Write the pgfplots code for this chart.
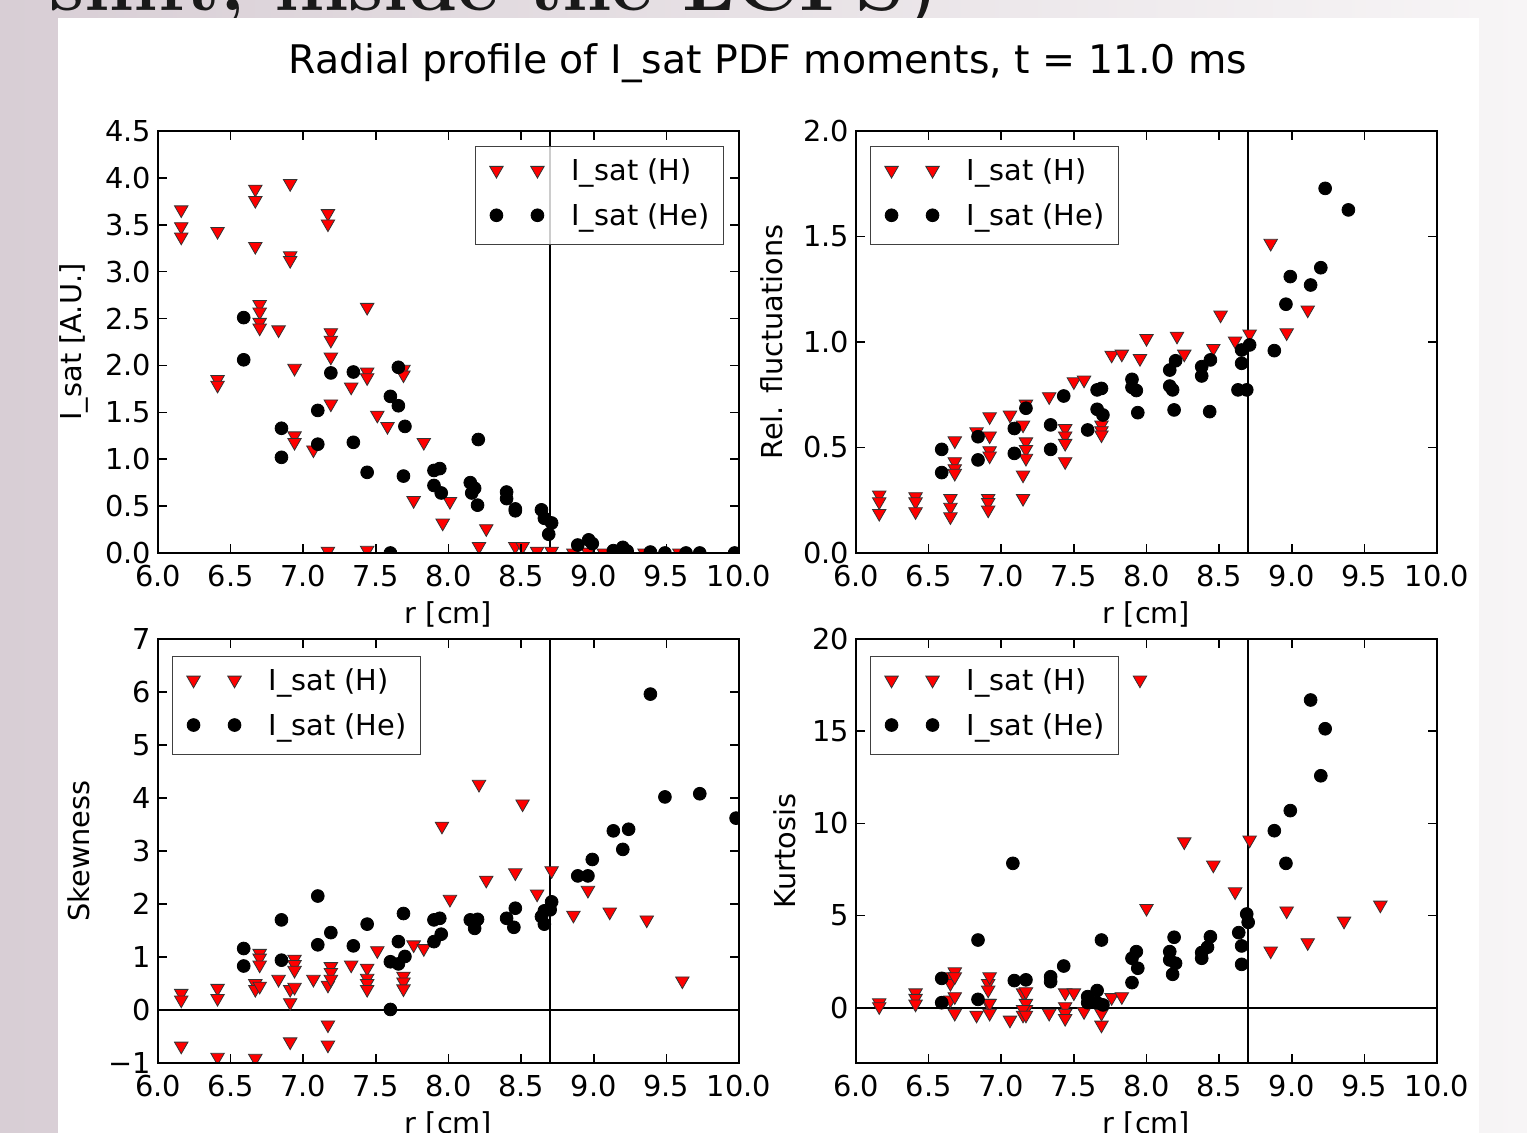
\documentclass[border=0pt]{standalone}
\usepackage{fontspec}
\usepackage{pgfplots}
\pgfplotsset{compat=1.18}
\newfontfamily\dv{DejaVu Sans}
\definecolor{bgL}{RGB}{216,206,213}
\definecolor{bgR}{RGB}{247,245,246}
\newcommand{\tfont}{\dv\fontsize{14.4}{17}\selectfont}
\pgfplotsset{
  panel/.style={
    scale only axis, width=290.5pt,
    xmin=6, xmax=10,
    xtick={6,6.5,7,7.5,8,8.5,9,9.5,10},
    xticklabels={6.0,6.5,7.0,7.5,8.0,8.5,9.0,9.5,10.0},
    tick align=inside, major tick length=4.5pt,
    every tick/.style={black, line width=0.8pt},
    axis line style={black, line width=1.1pt},
    clip marker paths=true, axis on top,
    tick label style={font=\tfont},
    label style={font=\tfont},
    xticklabel style={yshift=-2.5pt},
    xlabel={r [cm]},
    xlabel style={at={(axis description cs:0.5,-0.145)}, anchor=center},
    legend cell align=left,
    legend style={font=\tfont, draw=black!75, line width=0.6pt, fill=white,
      fill opacity=0.8, draw opacity=1, text opacity=1,
      inner xsep=7pt, inner ysep=6.5pt, row sep=9pt,
      nodes={inner sep=0pt, text height=10.5pt, text depth=3pt}},
  },
  Hs/.style={only marks, mark=triangle*, mark size=3.9pt,
    mark options={rotate=180, fill=red, draw=black!80, line width=0.4pt, fill opacity=1, draw opacity=1},
    legend image code/.code={\draw[##1, draw=none] plot coordinates {(0pt,1.5pt) (20.5pt,1.5pt)}; \path[draw=none] (-3.5pt,0pt) -- (37.5pt,0pt);}},
  Hes/.style={only marks, mark=*, mark size=3.2pt,
    mark options={fill=black, draw=black, line width=0.4pt, fill opacity=1, draw opacity=1},
    legend image code/.code={\draw[##1, draw=none] plot coordinates {(0pt,1.5pt) (20.5pt,1.5pt)}; \path[draw=none] (-3.5pt,0pt) -- (37.5pt,0pt);}},
  vl/.style={forget plot, black, line width=1pt},
}
\begin{document}
\begin{tikzpicture}
\path[use as bounding box] (0,0) rectangle (763.5pt,566.5pt);
\clip (0,0) rectangle (763.5pt,566.5pt);
\shade[left color=bgL, right color=bgR] (0,0) rectangle (763.5pt,566.5pt);
\node[anchor=base east, inner sep=0pt, text=black!90] at (470pt,561pt) {\fontsize{39.5}{40}\selectfont\bfseries shift, inside the LCFS)};
\fill[white] (29pt,0) rectangle (739.5pt,557.5pt);
\node[anchor=base, inner sep=0pt] at (384pt,529.5pt) {\dv\fontsize{19.7}{22}\selectfont Radial profile of I\_sat PDF moments, t = 11.0 ms};

% ---------- I_sat ----------
\begin{axis}[panel, at={(79pt,290pt)}, anchor=south west, height=211pt,
  ymin=0, ymax=4.5, ytick={0,0.5,1,1.5,2,2.5,3,3.5,4,4.5},
  yticklabels={0.0,0.5,1.0,1.5,2.0,2.5,3.0,3.5,4.0,4.5},
  ylabel={I\_sat [A.U.]}, ylabel style={at={(axis description cs:-0.145,0.5)}, anchor=center},
  legend style={at={(0.974,0.964)}, anchor=north east}]
\addplot[vl] coordinates {(8.7,0) (8.7,4.5)};
\addplot[Hs] coordinates {(6.16,3.66) (6.16,3.48) (6.16,3.37) (6.41,3.43) (6.41,1.85) (6.41,1.79) (6.67,3.88) (6.67,3.76) (6.67,3.27) (6.70,2.65) (6.70,2.57) (6.70,2.46) (6.70,2.40) (6.83,2.38) (6.91,3.94) (6.91,3.17) (6.91,3.12) (6.94,1.97) (6.94,1.25) (6.94,1.18) (7.07,1.10) (7.17,3.62) (7.17,3.51) (7.19,2.35) (7.19,2.27) (7.19,2.09) (7.19,1.59) (7.17,0.02) (7.33,1.77) (7.44,2.62) (7.44,1.93) (7.44,1.87) (7.44,0.03) (7.51,1.47) (7.58,1.35) (7.69,1.96) (7.69,1.90) (7.76,0.56) (7.83,1.18) (7.96,0.32) (8.01,0.55) (8.21,0.07) (8.26,0.26) (8.46,0.07) (8.51,0.07) (8.61,0.02) (8.71,0.02) (8.86,0.00) (8.96,0.01) (9.07,0.00) (9.35,0.00) (9.59,0.00)};
\addplot[Hes] coordinates {(6.59,2.51) (6.59,2.06) (6.85,1.33) (6.85,1.02) (7.10,1.52) (7.10,1.16) (7.19,1.92) (7.345,1.93) (7.345,1.18) (7.44,0.86) (7.60,1.67) (7.655,1.98) (7.655,1.57) (7.70,1.35) (7.69,0.82) (7.60,0.00) (7.90,0.88) (7.94,0.90) (7.90,0.72) (7.95,0.64) (8.205,1.21) (8.15,0.75) (8.18,0.69) (8.16,0.64) (8.20,0.51) (8.40,0.65) (8.40,0.58) (8.46,0.47) (8.46,0.45) (8.64,0.46) (8.66,0.37) (8.71,0.32) (8.69,0.20) (8.89,0.085) (8.965,0.14) (8.99,0.10) (9.135,0.025) (9.20,0.06) (9.23,0.02) (9.39,0.01) (9.49,0.00) (9.635,0.00) (9.73,0.00) (9.97,0.00)};
\legend{I\_sat (H), I\_sat (He)}
\end{axis}

% ---------- Rel. fluctuations ----------
\begin{axis}[panel, at={(428pt,290pt)}, anchor=south west, height=211pt,
  ymin=0, ymax=2, ytick={0,0.5,1,1.5,2},
  yticklabels={0.0,0.5,1.0,1.5,2.0},
  ylabel={Rel. fluctuations}, ylabel style={at={(axis description cs:-0.145,0.5)}, anchor=center},
  legend style={at={(0.024,0.964)}, anchor=north west}]
\addplot[vl] coordinates {(8.7,0) (8.7,2)};
\addplot[Hs] coordinates {(6.16,0.275) (6.16,0.243) (6.16,0.188) (6.41,0.267) (6.41,0.243) (6.41,0.196) (6.65,0.259) (6.65,0.217) (6.65,0.172) (6.91,0.259) (6.91,0.24) (6.91,0.204) (6.68,0.532) (6.68,0.433) (6.68,0.40) (6.68,0.378) (6.83,0.575) (6.92,0.646) (6.92,0.555) (6.92,0.485) (6.92,0.46) (7.06,0.654) (7.15,0.607) (7.17,0.706) (7.17,0.527) (7.17,0.491) (7.17,0.449) (7.15,0.37) (7.15,0.259) (7.33,0.741) (7.44,0.59) (7.44,0.555) (7.44,0.52) (7.44,0.433) (7.50,0.812) (7.57,0.82) (7.69,0.607) (7.69,0.58) (7.69,0.56) (7.76,0.938) (7.83,0.943) (7.955,0.922) (8.00,1.017) (8.21,1.028) (8.26,0.943) (8.46,0.97) (8.51,1.128) (8.61,1.005) (8.71,1.038) (8.855,1.468) (8.965,1.044) (9.11,1.152)};
\addplot[Hes] coordinates {(6.59,0.491) (6.59,0.381) (6.84,0.551) (6.84,0.441) (7.09,0.59) (7.09,0.472) (7.17,0.686) (7.34,0.607) (7.34,0.491) (7.43,0.744) (7.595,0.583) (7.66,0.773) (7.69,0.78) (7.66,0.681) (7.70,0.654) (7.90,0.823) (7.90,0.785) (7.93,0.77) (7.94,0.665) (8.20,0.911) (8.16,0.867) (8.16,0.791) (8.18,0.773) (8.19,0.678) (8.38,0.883) (8.38,0.839) (8.44,0.915) (8.435,0.67) (8.655,0.962) (8.655,0.899) (8.63,0.773) (8.69,0.773) (8.71,0.986) (8.88,0.959) (8.96,1.179) (8.99,1.31) (9.13,1.27) (9.20,1.352) (9.23,1.728) (9.39,1.626)};
\legend{I\_sat (H), I\_sat (He)}
\end{axis}

% ---------- Skewness ----------
\begin{axis}[panel, at={(79pt,35pt)}, anchor=south west, height=212pt,
  ymin=-1, ymax=7, ytick={-1,0,1,2,3,4,5,6,7},
  yticklabels={−1,0,1,2,3,4,5,6,7},
  ylabel={Skewness}, ylabel style={at={(axis description cs:-0.136,0.5)}, anchor=center},
  legend style={at={(0.024,0.96)}, anchor=north west}]
\addplot[vl] coordinates {(8.7,-1) (8.7,7)};
\addplot[vl] coordinates {(6,0) (10,0)};
\addplot[Hs] coordinates {(6.16,0.315) (6.16,0.19) (6.16,-0.68) (6.41,0.41) (6.41,0.22) (6.41,-0.89) (6.67,-0.91) (6.67,0.50) (6.67,0.39) (6.70,1.07) (6.70,0.98) (6.70,0.85) (6.70,0.45) (6.83,0.58) (6.91,0.39) (6.91,0.14) (6.91,-0.60) (6.94,0.96) (6.94,0.86) (6.94,0.75) (6.94,0.43) (7.07,0.58) (7.17,0.47) (7.17,-0.28) (7.17,-0.66) (7.19,0.82) (7.19,0.71) (7.19,0.58) (7.33,0.85) (7.44,0.79) (7.44,0.60) (7.44,0.50) (7.44,0.39) (7.51,1.12) (7.69,0.64) (7.69,0.53) (7.69,0.40) (7.76,1.23) (7.83,1.16) (7.955,3.47) (8.01,2.09) (8.21,4.26) (8.26,2.45) (8.46,2.59) (8.51,3.89) (8.61,2.19) (8.71,2.63) (8.86,1.79) (8.96,2.26) (9.11,1.85) (9.365,1.70) (9.61,0.55)};
\addplot[Hes] coordinates {(6.59,1.16) (6.59,0.83) (6.85,1.70) (6.85,0.94) (7.10,2.15) (7.10,1.23) (7.19,1.46) (7.345,1.21) (7.44,1.62) (7.60,0.91) (7.60,0.01) (7.655,1.29) (7.655,0.87) (7.70,1.01) (7.69,1.82) (7.90,1.29) (7.90,1.70) (7.94,1.73) (7.95,1.43) (8.15,1.70) (8.18,1.66) (8.20,1.71) (8.18,1.54) (8.40,1.73) (8.46,1.92) (8.45,1.56) (8.64,1.76) (8.66,1.62) (8.66,1.87) (8.70,1.89) (8.71,2.04) (8.89,2.53) (8.96,2.53) (8.99,2.84) (9.135,3.38) (9.24,3.41) (9.20,3.03) (9.39,5.96) (9.49,4.02) (9.73,4.08) (9.98,3.62)};
\legend{I\_sat (H), I\_sat (He)}
\end{axis}

% ---------- Kurtosis ----------
\begin{axis}[panel, at={(428pt,35pt)}, anchor=south west, height=212pt,
  ymin=-3, ymax=20, ytick={0,5,10,15,20},
  yticklabels={0,5,10,15,20},
  ylabel={Kurtosis}, ylabel style={at={(axis description cs:-0.122,0.5)}, anchor=center},
  legend style={at={(0.024,0.96)}, anchor=north west}]
\addplot[vl] coordinates {(8.7,-3) (8.7,20)};
\addplot[vl] coordinates {(6,0) (10,0)};
\addplot[Hs] coordinates {(6.16,0.27) (6.16,0.06) (6.41,0.81) (6.41,0.51) (6.41,0.2) (6.65,1.68) (6.65,1.32) (6.65,0.42) (6.68,1.95) (6.68,1.68) (6.68,0.60) (6.68,-0.30) (6.83,-0.40) (6.91,1.32) (6.91,0.96) (6.91,0.24) (6.92,1.68) (6.92,0.24) (6.92,-0.3) (7.06,-0.67) (7.15,0.81) (7.17,0.87) (7.17,0.24) (7.17,-0.09) (7.15,-0.09) (7.15,-0.40) (7.17,-0.40) (7.33,-0.3) (7.44,0.81) (7.44,0.06) (7.44,-0.3) (7.44,-0.58) (7.50,0.81) (7.57,-0.21) (7.69,-0.3) (7.69,-0.94) (7.76,0.55) (7.83,0.60) (7.955,17.78) (8.00,5.39) (8.26,9.0) (8.46,7.74) (8.61,6.29) (8.71,9.10) (8.855,3.08) (8.965,5.25) (9.11,3.53) (9.36,4.70) (9.61,5.57)};
\addplot[Hes] coordinates {(6.59,1.59) (6.59,0.27) (6.84,3.67) (6.84,0.45) (7.08,7.83) (7.09,1.47) (7.17,1.51) (7.34,1.68) (7.34,1.41) (7.43,2.26) (7.595,0.6) (7.595,0.27) (7.66,0.93) (7.69,3.67) (7.66,0.27) (7.70,0.15) (7.90,2.68) (7.93,3.04) (7.94,2.14) (7.90,1.36) (8.19,3.82) (8.16,3.04) (8.16,2.59) (8.20,2.41) (8.18,1.81) (8.44,3.85) (8.42,3.28) (8.38,2.99) (8.38,2.68) (8.635,4.07) (8.655,3.35) (8.655,2.35) (8.69,5.08) (8.70,4.63) (8.88,9.60) (8.99,10.69) (8.96,7.83) (9.13,16.69) (9.23,15.13) (9.20,12.58)};
\legend{I\_sat (H), I\_sat (He)}
\end{axis}
\end{tikzpicture}
\end{document}
